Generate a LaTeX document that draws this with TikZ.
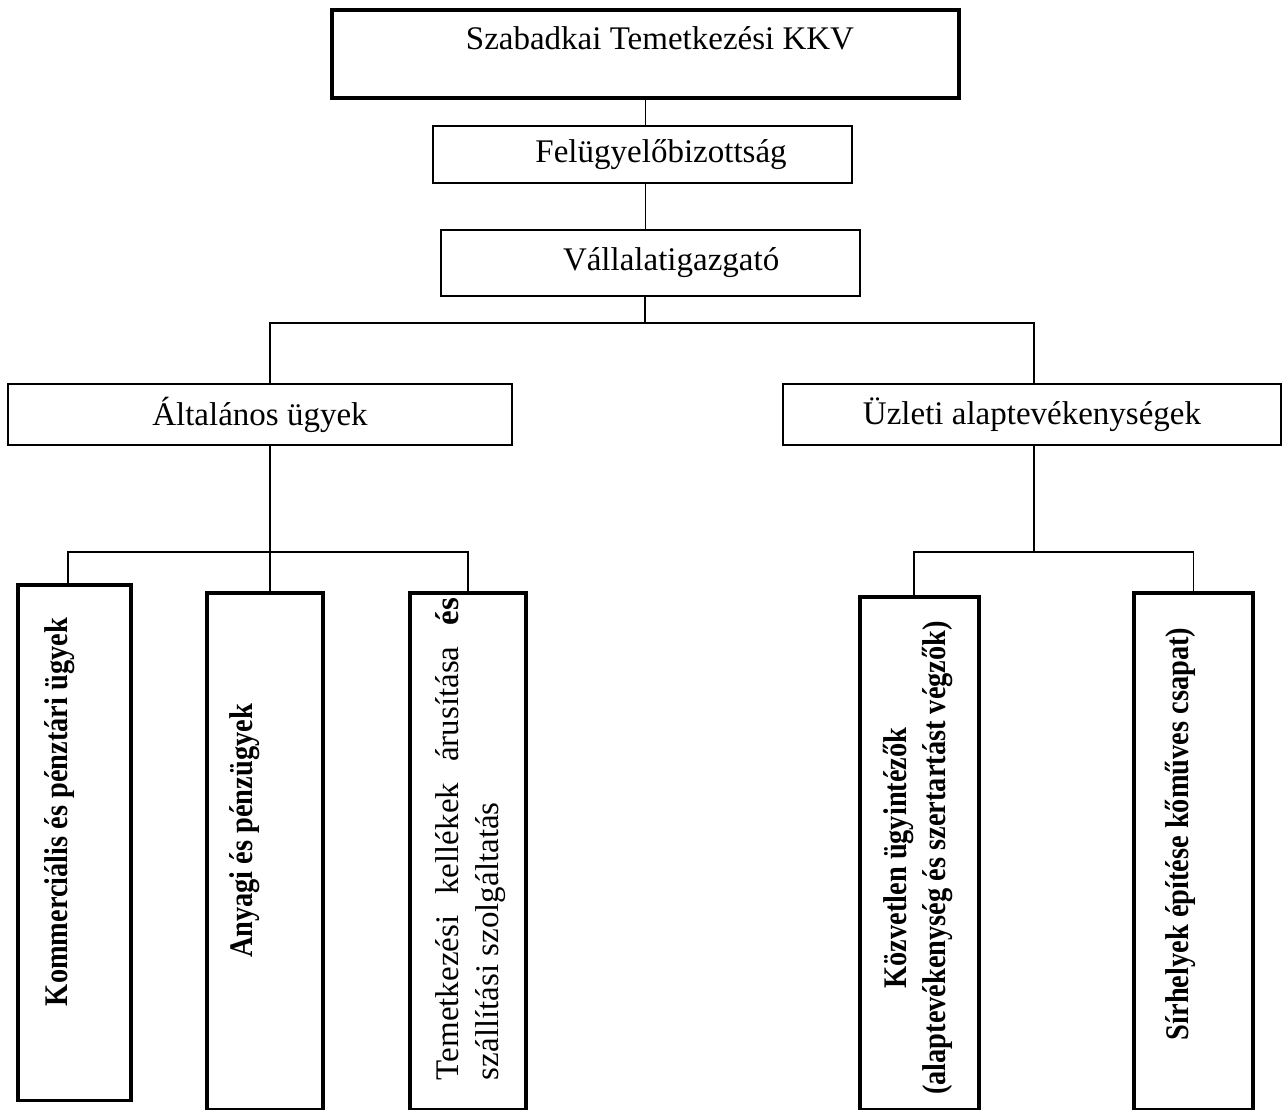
\documentclass[tikz,border=0pt]{standalone}
\usepackage{fontspec}
\setmainfont{Liberation Serif}
\newfontfamily\narrowserif[FakeStretch=0.86]{Liberation Serif}
\usetikzlibrary{positioning}
\newlength\pxu
\setlength\pxu{0.3636pt}

\begin{document}
\begin{tikzpicture}[
    x=\pxu, y=-\pxu,
    every node/.style={font=\fontsize{12}{14.5}\selectfont},
    boxsize/.style 2 args={minimum width=#1*\pxu, minimum height=#2*\pxu},
    unitbox/.style={draw, line width=0.5pt, inner sep=0pt},
    mainbox/.style={draw, line width=1.1pt, inner sep=0pt},
    vtext/.style={rotate=90, inner sep=0pt},
    vbold/.style={vtext, font=\fontsize{12}{14}\selectfont\narrowserif\bfseries},
    link/.style={line width=0.5pt}
]
    \useasboundingbox (0,0) rectangle (1283,1109);

    % Top of the chart: company, board, director, one under the other.
    \node[mainbox, boxsize={627}{88}, text height=14.5pt, text depth=17.5pt] (szabadkai) at (645.5,54) {\hspace*{10.5pt}Szabadkai Temetkezési KKV};
    \node[unitbox, boxsize={419}{57}] (felugyelo) at (642.5,154.5) {\hspace*{13.5pt}Felügyelőbizottság};
    \node[unitbox, boxsize={419}{66}] (igazgato) at (650.5,263) {\hspace*{15pt}Vállalatigazgató};

    % The two branches.
    \node[unitbox, boxsize={504}{61}] (altalanos) at (260,414.5) {Általános ügyek};
    \node[unitbox, boxsize={498}{61}] (uzleti) at (1032,414.5) {Üzleti alaptevékenységek};

    % Units, drawn as tall boxes with vertical text.
    \node[mainbox, boxsize={113}{515}] (kommercialis) at (74.5,842.5) {};
    \node[mainbox, boxsize={116}{516}] (anyagi) at (265,851) {};
    \node[mainbox, boxsize={116}{516}] (kellekek) at (468,851) {};
    \node[mainbox, boxsize={119}{512}] (kozvetlen) at (919.5,853) {};
    \node[mainbox, boxsize={119}{516}] (sirhelyek) at (1193.5,851) {};

    \node[vbold] (kommtxt) at (60,812) {Kommerciális és pénztári ügyek};
    \node[vbold] (anyagitxt) at (245,831) {Anyagi és pénzügyek};
    \node[vtext, text width=175.3pt, align=justify] (kellektxt) at (471,839) {Temetkezési kellékek árusítása \textbf{és}\linebreak szállítási szolgáltatás};
    \node[vbold, align=center] (kozvtxt) at (918,858) {Közvetlen ügyintézők\\(alaptevékenység és szertartást végzők)};
    \node[vbold] (sirtxt) at (1180,834) {Sírhelyek építése kőműves csapat)};

    % Connectors
    \coordinate (fork) at (645,323);
    \coordinate (leftfork) at (270,552);
    \coordinate (rightfork) at (1034,552);

    \draw[link] (szabadkai.south) -- (szabadkai.south |- felugyelo.north);
    \draw[link] (szabadkai.south |- felugyelo.south) -- (szabadkai.south |- igazgato.north);
    \draw[link] (fork |- igazgato.south) -- (fork);
    \draw[link] (fork) -| (leftfork |- altalanos.north);
    \draw[link] (fork) -| (rightfork |- uzleti.north);

    \draw[link] (leftfork |- altalanos.south) -- (leftfork);
    \draw[link] (leftfork) -| ([xshift=-6.5*\pxu]kommercialis.north);
    \draw[link] (leftfork) -- (leftfork |- anyagi.north);
    \draw[link] (leftfork) -| (kellekek.north);

    \draw[link] (rightfork |- uzleti.south) -- (rightfork);
    \draw[link] (rightfork) -| ([xshift=-5.5*\pxu]kozvetlen.north);
    \draw[link] (rightfork) -| (sirhelyek.north);
\end{tikzpicture}
\end{document}
